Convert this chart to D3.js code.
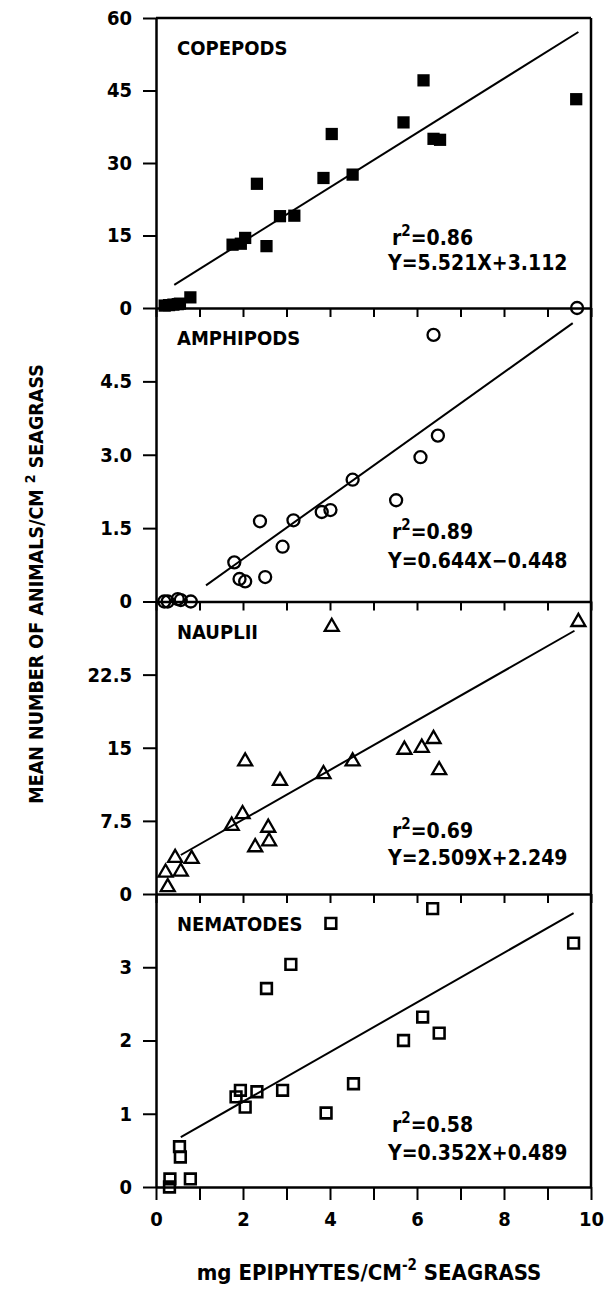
<!DOCTYPE html>
<html>
<head>
<meta charset="utf-8">
<script src="https://cdn.jsdelivr.net/npm/d3@7/dist/d3.min.js"></script>
<style>
body { margin: 0; background: #fff; }
text { font-family: "DejaVu Sans Condensed", "DejaVu Sans", sans-serif; font-weight: bold; fill: #000; }
.axis path, .axis line { stroke: #000; }
</style>
</head>
<body>
<div id="chart"></div>
<script>
// values, one pair of arrays per panel
var copepodX = [0.2, 0.3, 0.4, 0.5, 0.55, 0.79, 1.76, 1.95, 2.05, 2.32, 2.54, 2.85, 3.18, 3.85, 4.04, 4.52, 5.69, 6.15, 6.38, 6.53, 9.66];
var copepodY = [0.5, 0.6, 0.7, 0.8, 0.9, 2.2, 13.1, 13.3, 14.5, 25.7, 12.8, 19.0, 19.1, 26.9, 36.0, 27.6, 38.4, 47.1, 35.0, 34.8, 43.2];

var amphipodX = [0.19, 0.27, 0.5, 0.57, 0.8, 1.80, 1.92, 2.05, 2.39, 2.51, 2.91, 3.16, 3.81, 4.01, 4.52, 5.52, 6.08, 6.38, 6.48, 9.68];
var amphipodY = [0, 0, 0.05, 0.03, 0, 0.80, 0.46, 0.41, 1.64, 0.50, 1.12, 1.66, 1.83, 1.87, 2.49, 2.07, 2.95, 5.45, 3.39, 6.0];

var naupliiX = [0.27, 0.22, 0.44, 0.57, 0.82, 1.74, 1.99, 2.05, 2.28, 2.58, 2.60, 2.85, 3.85, 4.04, 4.52, 5.71, 6.11, 6.38, 6.51, 9.71];
var naupliiY = [0.7, 2.2, 3.7, 2.3, 3.6, 7.0, 8.2, 13.6, 4.8, 6.8, 5.4, 11.6, 12.3, 27.4, 13.6, 14.8, 15.0, 15.9, 12.7, 27.9];

var nematodeX = [0.31, 0.32, 0.54, 0.56, 0.79, 1.84, 1.94, 2.05, 2.32, 2.54, 2.91, 3.10, 3.91, 4.02, 4.54, 5.69, 6.13, 6.36, 6.51, 9.60];
var nematodeY = [0.0, 0.11, 0.55, 0.41, 0.11, 1.23, 1.32, 1.09, 1.30, 2.71, 1.32, 3.04, 1.01, 3.60, 1.41, 2.0, 2.32, 3.80, 2.10, 3.33];

// regression lines, end points as drawn
var fitLines = [
  [[0.42, 4.8], [9.71, 57.1]],
  [[1.15, 0.33], [9.58, 5.69]],
  [[0.57, 4.0], [9.62, 27.0]],
  [[0.57, 0.68], [9.60, 3.74]]
];

var panelNames = ["COPEPODS", "AMPHIPODS", "NAUPLII", "NEMATODES"];
var rSquared = ["0.86", "0.89", "0.69", "0.58"];
var equations = ["Y=5.521X+3.112", "Y=0.644X\u22120.448", "Y=2.509X+2.249", "Y=0.352X+0.489"];
var yMax = [60, 6, 30, 4];
var yTicks = [[0, 15, 30, 45, 60], [0, 1.5, 3, 4.5], [0, 7.5, 15, 22.5], [0, 1, 2, 3]];
var yTickLabels = [["0", "15", "30", "45", "60"], ["0", "1.5", "3.0", "4.5"], ["0", "7.5", "15", "22.5"], ["0", "1", "2", "3"]];
var xTicks = [0, 1, 2, 3, 4, 5, 6, 7, 8, 9, 10];
var xTickLabels = ["0", "", "2", "", "4", "", "6", "", "8", "", "10"];

var width = 611, height = 1291;
var left = 156, right = 591;
var panelTop = [18, 308, 601.5, 894];
var panelBottom = [308, 601.5, 894, 1187];
var noteOffset = [[63, 38], [63, 34], [56, 29], [55, 27]];

var svg = d3.select("#chart").append("svg")
    .attr("width", width)
    .attr("height", height);

var x = d3.scaleLinear().domain([0, 10]).range([left, right]);

var series = [
  { xs: copepodX, ys: copepodY, mark: "filledSquare" },
  { xs: amphipodX, ys: amphipodY, mark: "circle" },
  { xs: naupliiX, ys: naupliiY, mark: "triangle" },
  { xs: nematodeX, ys: nematodeY, mark: "openSquare" }
];

// frame: top and right edges
svg.append("line")
  .attr("x1", left).attr("x2", right)
  .attr("y1", panelTop[0]).attr("y2", panelTop[0])
  .attr("stroke", "#000").attr("stroke-width", 2.5);
svg.append("line")
  .attr("x1", right).attr("x2", right)
  .attr("y1", panelTop[0]).attr("y2", panelBottom[3])
  .attr("stroke", "#000").attr("stroke-width", 2.5);

series.forEach(function(s, i) {
  var y = d3.scaleLinear().domain([0, yMax[i]]).range([panelBottom[i], panelTop[i]]);
  var last = (i === series.length - 1);

  // bottom axis of each panel, ticks point down
  var xAxis = d3.axisBottom(x)
    .tickValues(xTicks)
    .tickSizeInner(last ? 13 : 9)
    .tickSizeOuter(0)
    .tickPadding(12)
    .tickFormat(function(d, k) { return last ? xTickLabels[k] : ""; });
  var gx = svg.append("g")
    .attr("class", "axis")
    .attr("transform", "translate(0," + panelBottom[i] + ")")
    .call(xAxis);
  gx.select(".domain").attr("stroke-width", 2.5);
  gx.selectAll(".tick line").attr("stroke-width", 2);
  gx.selectAll("text").style("font-size", "20px");

  var yAxis = d3.axisLeft(y)
    .tickValues(yTicks[i])
    .tickSizeInner(13)
    .tickSizeOuter(0)
    .tickPadding(11)
    .tickFormat(function(d, k) { return yTickLabels[i][k]; });
  var gy = svg.append("g")
    .attr("class", "axis")
    .attr("transform", "translate(" + left + ",0)")
    .call(yAxis);
  gy.select(".domain").attr("stroke-width", 2.5);
  gy.selectAll(".tick line").attr("stroke-width", 2);
  gy.selectAll("text").style("font-size", "20px");

  // regression line
  svg.append("path")
    .datum(fitLines[i])
    .attr("fill", "none")
    .attr("stroke", "#000")
    .attr("stroke-width", 2)
    .attr("d", d3.line().x(function(d) { return x(d[0]); }).y(function(d) { return y(d[1]); }));

  // points
  var pts = s.xs.map(function(v, k) { return [v, s.ys[k]]; });
  var g = svg.append("g");
  if (s.mark === "filledSquare") {
    g.selectAll("path").data(pts).enter().append("path")
      .attr("d", d3.symbol().type(d3.symbolSquare).size(150))
      .attr("transform", function(d) { return "translate(" + x(d[0]) + "," + y(d[1]) + ")"; })
      .attr("fill", "#000");
  } else if (s.mark === "circle") {
    g.selectAll("circle").data(pts).enter().append("circle")
      .attr("cx", function(d) { return x(d[0]); })
      .attr("cy", function(d) { return y(d[1]); })
      .attr("r", 6)
      .attr("fill", "none").attr("stroke", "#000").attr("stroke-width", 2.3);
  } else if (s.mark === "triangle") {
    g.selectAll("path").data(pts).enter().append("path")
      .attr("d", d3.symbol().type(d3.symbolTriangle).size(85))
      .attr("transform", function(d) { return "translate(" + x(d[0]) + "," + y(d[1]) + ")"; })
      .attr("fill", "none").attr("stroke", "#000").attr("stroke-width", 2.3);
  } else {
    g.selectAll("path").data(pts).enter().append("path")
      .attr("d", d3.symbol().type(d3.symbolSquare).size(115))
      .attr("transform", function(d) { return "translate(" + x(d[0]) + "," + y(d[1]) + ")"; })
      .attr("fill", "none").attr("stroke", "#000").attr("stroke-width", 2.6);
  }

  // panel name
  svg.append("text")
    .attr("x", 177)
    .attr("y", panelTop[i] + 37)
    .style("font-size", "20px")
    .text(panelNames[i]);

  // r squared and equation
  var r2 = svg.append("text")
    .attr("x", 392)
    .attr("y", panelBottom[i] - noteOffset[i][0])
    .style("font-size", "21px");
  r2.append("tspan").text("r");
  r2.append("tspan").attr("dy", -9).style("font-size", "15px").text("2");
  r2.append("tspan").attr("dy", 9).text("=" + rSquared[i]);

  svg.append("text")
    .attr("x", 388)
    .attr("y", panelBottom[i] - noteOffset[i][1])
    .style("font-size", "21px")
    .text(equations[i]);
});

// axis titles
var yTitle = svg.append("text")
  .attr("transform", "translate(43,584) rotate(-90)")
  .attr("text-anchor", "middle")
  .style("font-size", "19.5px");
yTitle.append("tspan").text("MEAN NUMBER OF ANIMALS/CM ");
yTitle.append("tspan").attr("dy", -8).style("font-size", "14px").text("2");
yTitle.append("tspan").attr("dy", 8).text("  SEAGRASS");

var xTitle = svg.append("text")
  .attr("x", 369)
  .attr("y", 1280)
  .attr("text-anchor", "middle")
  .style("font-size", "22px");
xTitle.append("tspan").text("mg EPIPHYTES/CM");
xTitle.append("tspan").attr("dy", -10).style("font-size", "15px").text("-2");
xTitle.append("tspan").attr("dy", 10).text(" SEAGRASS");
</script>
</body>
</html>
